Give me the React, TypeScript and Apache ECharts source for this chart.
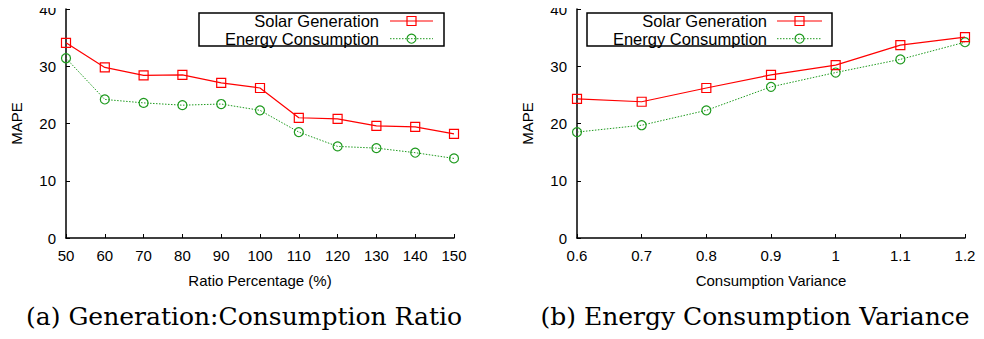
import React, { useEffect, useRef } from "react";
import * as echarts from "echarts";

const ratioX = [50, 60, 70, 80, 90, 100, 110, 120, 130, 140, 150];
const ratioSolar = [34.1, 29.8, 28.4, 28.5, 27.1, 26.2, 21.0, 20.8, 19.6, 19.4, 18.2];
const ratioEnergy = [31.4, 24.2, 23.6, 23.2, 23.4, 22.3, 18.5, 16.0, 15.7, 14.9, 13.9];

const varX = [0.6, 0.7, 0.8, 0.9, 1.0, 1.1, 1.2];
const varSolar = [24.3, 23.8, 26.2, 28.5, 30.2, 33.7, 35.1];
const varEnergy = [18.5, 19.7, 22.3, 26.4, 28.9, 31.2, 34.2];

const yTicks = [0, 10, 20, 30, 40];
const seriesNames = ["Solar Generation", "Energy Consumption"];
const xNames = ["Ratio Percentage (%)", "Consumption Variance"];
const yName = "MAPE";
const captions = ["(a) Generation:Consumption Ratio", "(b) Energy Consumption Variance"];

const RED = "#ff0000";
const GREEN = "#1f9a1f";
const SANS = "'Liberation Sans', Arial, Helvetica, sans-serif";
const SERIF = "'DejaVu Serif', 'Liberation Serif', serif";

function zip(xs: number[], ys: number[]) {
  return xs.map((x, i) => [x, ys[i]]);
}

function legendGraphic(boxX: number, boxW: number, textRight: number, lineX1: number, lineX2: number) {
  const rows = [21, 38.7];
  const markerX = (lineX1 + lineX2) / 2;
  const els: any[] = [
    {
      type: "rect",
      shape: { x: boxX, y: 13, width: boxW, height: 33 },
      style: { fill: "#fff", stroke: "#000", lineWidth: 1.5 },
      z: 10,
    },
  ];
  seriesNames.forEach((name, i) => {
    els.push({
      type: "text",
      x: textRight,
      y: rows[i],
      style: {
        text: name,
        fill: "#000",
        font: `16.5px ${SANS}`,
        textAlign: "right",
        textVerticalAlign: "middle",
      },
      z: 11,
    });
    els.push({
      type: "line",
      shape: { x1: lineX1, y1: rows[i], x2: lineX2, y2: rows[i] },
      style: {
        stroke: i === 0 ? RED : GREEN,
        lineWidth: i === 0 ? 1.2 : 1,
        lineDash: i === 0 ? null : [1.5, 1.5],
      },
      z: 11,
    });
    if (i === 0) {
      els.push({
        type: "rect",
        shape: { x: markerX - 4.5, y: rows[i] - 4.5, width: 9, height: 9 },
        style: { fill: "none", stroke: RED, lineWidth: 1.2 },
        z: 12,
      });
    } else {
      els.push({
        type: "circle",
        shape: { cx: markerX, cy: rows[i], r: 4.5 },
        style: { fill: "none", stroke: GREEN, lineWidth: 1.2 },
        z: 12,
      });
    }
  });
  return els;
}

export default function App() {
  const ref = useRef<HTMLDivElement>(null);
  useEffect(() => {
    if (!ref.current) return;
    const chart = echarts.init(ref.current, null, { renderer: "svg" });
    const axisLine = { show: true, lineStyle: { color: "#000", width: 1.5 } };
    const axisTick = { show: true, inside: true, length: 4, lineStyle: { color: "#000", width: 1 } };
    const labelStyle = { color: "#000", fontSize: 15, fontFamily: SANS };
    const nameStyle = { color: "#000", fontSize: 15, fontFamily: SANS };

    const xAxisBase = (i: number, min: number, max: number, interval: number) => ({
      type: "value",
      gridIndex: i,
      min,
      max,
      interval,
      name: xNames[i],
      nameLocation: "middle",
      nameGap: 35,
      nameTextStyle: nameStyle,
      axisLine,
      axisTick,
      axisLabel: {
        ...labelStyle,
        margin: 10,
        formatter: (v: number) => String(+v.toFixed(1)),
      },
      splitLine: { show: false },
    });
    const yAxisBase = (i: number) => ({
      type: "value",
      gridIndex: i,
      min: yTicks[0],
      max: yTicks[yTicks.length - 1],
      interval: yTicks[1] - yTicks[0],
      name: yName,
      nameLocation: "middle",
      nameGap: 42,
      nameTextStyle: nameStyle,
      axisLine,
      axisTick,
      axisLabel: { ...labelStyle, margin: 10 },
      splitLine: { show: false },
    });

    const solarSeries = (i: number, data: number[][]) => ({
      type: "line",
      name: seriesNames[0],
      xAxisIndex: i,
      yAxisIndex: i,
      data,
      symbol: "rect",
      symbolSize: 9,
      showSymbol: true,
      lineStyle: { color: RED, width: 1.2 },
      itemStyle: { color: "transparent", borderColor: RED, borderWidth: 1.2 },
      z: 3,
    });
    const energySeries = (i: number, data: number[][]) => ({
      type: "line",
      name: seriesNames[1],
      xAxisIndex: i,
      yAxisIndex: i,
      data,
      symbol: "circle",
      symbolSize: 9,
      showSymbol: true,
      lineStyle: { color: GREEN, width: 1, type: [1.5, 1.5] },
      itemStyle: { color: "transparent", borderColor: GREEN, borderWidth: 1.2 },
      z: 2,
    });

    chart.setOption({
      animation: false,
      backgroundColor: "#fff",
      grid: [
        { left: 66, top: 9, width: 388, height: 229 },
        { left: 577, top: 9, width: 388, height: 229 },
      ],
      xAxis: [xAxisBase(0, 50, 150, 10), xAxisBase(1, 0.6, 1.2, 0.1)],
      yAxis: [yAxisBase(0), yAxisBase(1)],
      series: [
        solarSeries(0, zip(ratioX, ratioSolar)),
        energySeries(0, zip(ratioX, ratioEnergy)),
        solarSeries(1, zip(varX, varSolar)),
        energySeries(1, zip(varX, varEnergy)),
      ],
      graphic: [
        ...legendGraphic(199, 245, 379, 390, 433),
        ...legendGraphic(587, 245, 767, 777, 822),
        {
          type: "text",
          x: 244,
          y: 316,
          style: {
            text: captions[0],
            fill: "#000",
            font: `25px ${SERIF}`,
            textAlign: "center",
            textVerticalAlign: "middle",
          },
        },
        {
          type: "text",
          x: 755,
          y: 316,
          style: {
            text: captions[1],
            fill: "#000",
            font: `25px ${SERIF}`,
            textAlign: "center",
            textVerticalAlign: "middle",
          },
        },
      ],
    });
    return () => chart.dispose();
  }, []);
  return <div ref={ref} style={{ width: 984, height: 339, margin: -8 }} />;
}
